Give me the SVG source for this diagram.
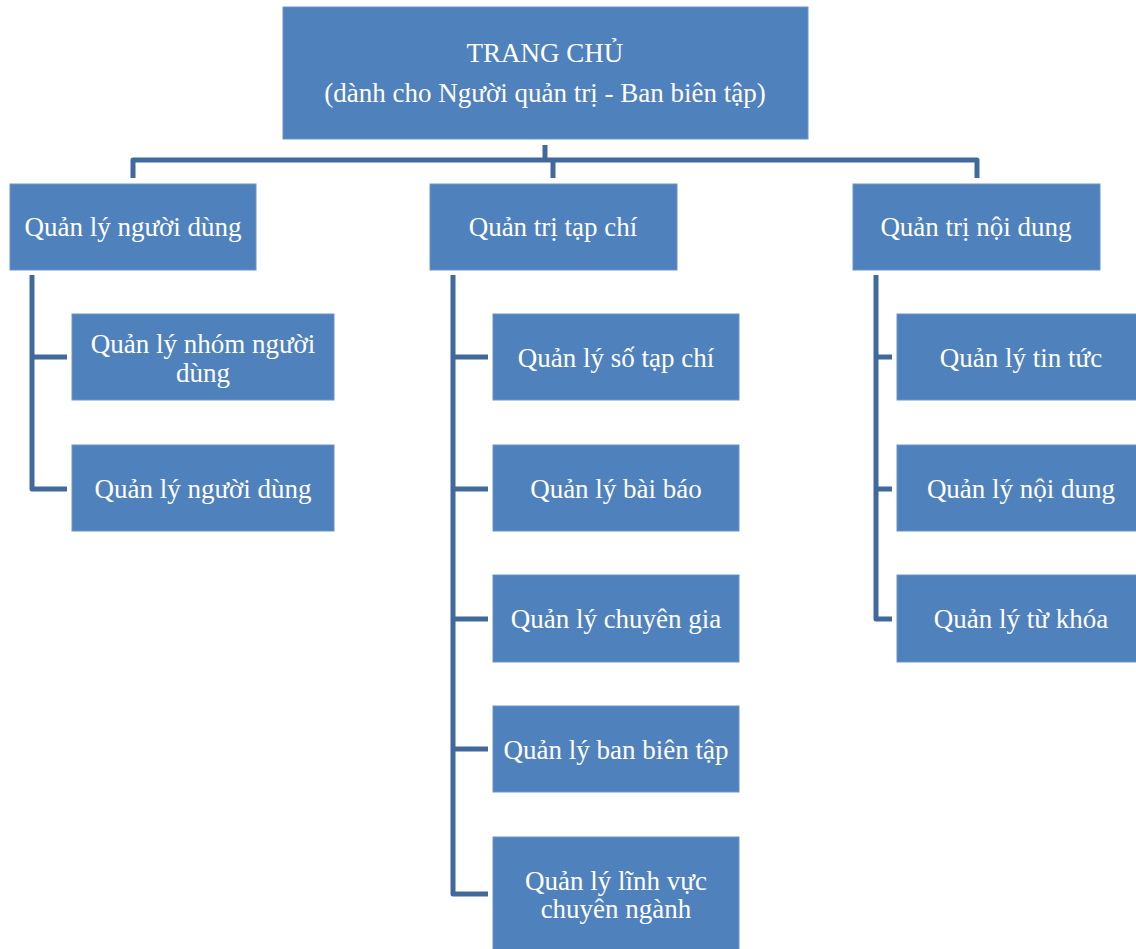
<svg xmlns="http://www.w3.org/2000/svg" width="1136" height="949" viewBox="0 0 1136 949">
<style>
.box{fill:#4F81BD;stroke:#6B95CA;stroke-width:1}
.t{font-family:"Liberation Serif","Times New Roman",serif;font-size:27px;fill:#FFFFFF;text-anchor:middle}
.c{fill:none;stroke:#41699C;stroke-width:5;stroke-linejoin:round;stroke-linecap:butt}
</style>
<rect width="1136" height="949" fill="#FFFFFF"/>
<g id="connectors">
<path class="c" d="M545 145 V160"/>
<path class="c" d="M133 178 V160 H977 V178"/>
<path class="c" d="M553 160 V178"/>
<path class="c" d="M32 275 V489 H67"/>
<path class="c" d="M32 357 H67"/>
<path class="c" d="M453 275 V894 H488"/>
<path class="c" d="M453 357 H488 M453 489 H488 M453 619 H488 M453 749 H488"/>
<path class="c" d="M876 275 V619 H892"/>
<path class="c" d="M876 357 H892 M876 489 H892"/>
</g>
<g id="root">
<rect class="box" x="283" y="7" width="525" height="132"/>
<text class="t" x="545" y="62">TRANG CHỦ</text>
<text class="t" x="545" y="102">(dành cho Người quản trị - Ban biên tập)</text>
</g>
<g id="n-users">
<rect class="box" x="10" y="184" width="246" height="86"/>
<text class="t" x="133" y="236">Quản lý người dùng</text>
</g>
<g id="n-journal">
<rect class="box" x="430" y="184" width="247" height="86"/>
<text class="t" x="553" y="236">Quản trị tạp chí</text>
</g>
<g id="n-content">
<rect class="box" x="853" y="184" width="247" height="86"/>
<text class="t" x="976" y="236">Quản trị nội dung</text>
</g>
<g id="n-usergroups">
<rect class="box" x="72" y="314" width="262" height="86"/>
<text class="t" x="203" y="353">Quản lý nhóm người</text>
<text class="t" x="203" y="382">dùng</text>
</g>
<g id="n-users2">
<rect class="box" x="72" y="445" width="262" height="86"/>
<text class="t" x="203" y="498">Quản lý người dùng</text>
</g>
<g id="n-issues">
<rect class="box" x="493" y="314" width="246" height="86"/>
<text class="t" x="616" y="367">Quản lý số tạp chí</text>
</g>
<g id="n-articles">
<rect class="box" x="493" y="445" width="246" height="86"/>
<text class="t" x="616" y="498">Quản lý bài báo</text>
</g>
<g id="n-experts">
<rect class="box" x="493" y="575" width="246" height="87"/>
<text class="t" x="616" y="628">Quản lý chuyên gia</text>
</g>
<g id="n-board">
<rect class="box" x="493" y="706" width="246" height="86"/>
<text class="t" x="616" y="759">Quản lý ban biên tập</text>
</g>
<g id="n-fields">
<rect class="box" x="493" y="837" width="246" height="120"/>
<text class="t" x="616" y="890">Quản lý lĩnh vực</text>
<text class="t" x="616" y="918">chuyên ngành</text>
</g>
<g id="n-news">
<rect class="box" x="897" y="314" width="250" height="86"/>
<text class="t" x="1021" y="367">Quản lý tin tức</text>
</g>
<g id="n-contents">
<rect class="box" x="897" y="445" width="250" height="86"/>
<text class="t" x="1021" y="498">Quản lý nội dung</text>
</g>
<g id="n-keywords">
<rect class="box" x="897" y="575" width="250" height="87"/>
<text class="t" x="1021" y="628">Quản lý từ khóa</text>
</g>
</svg>
